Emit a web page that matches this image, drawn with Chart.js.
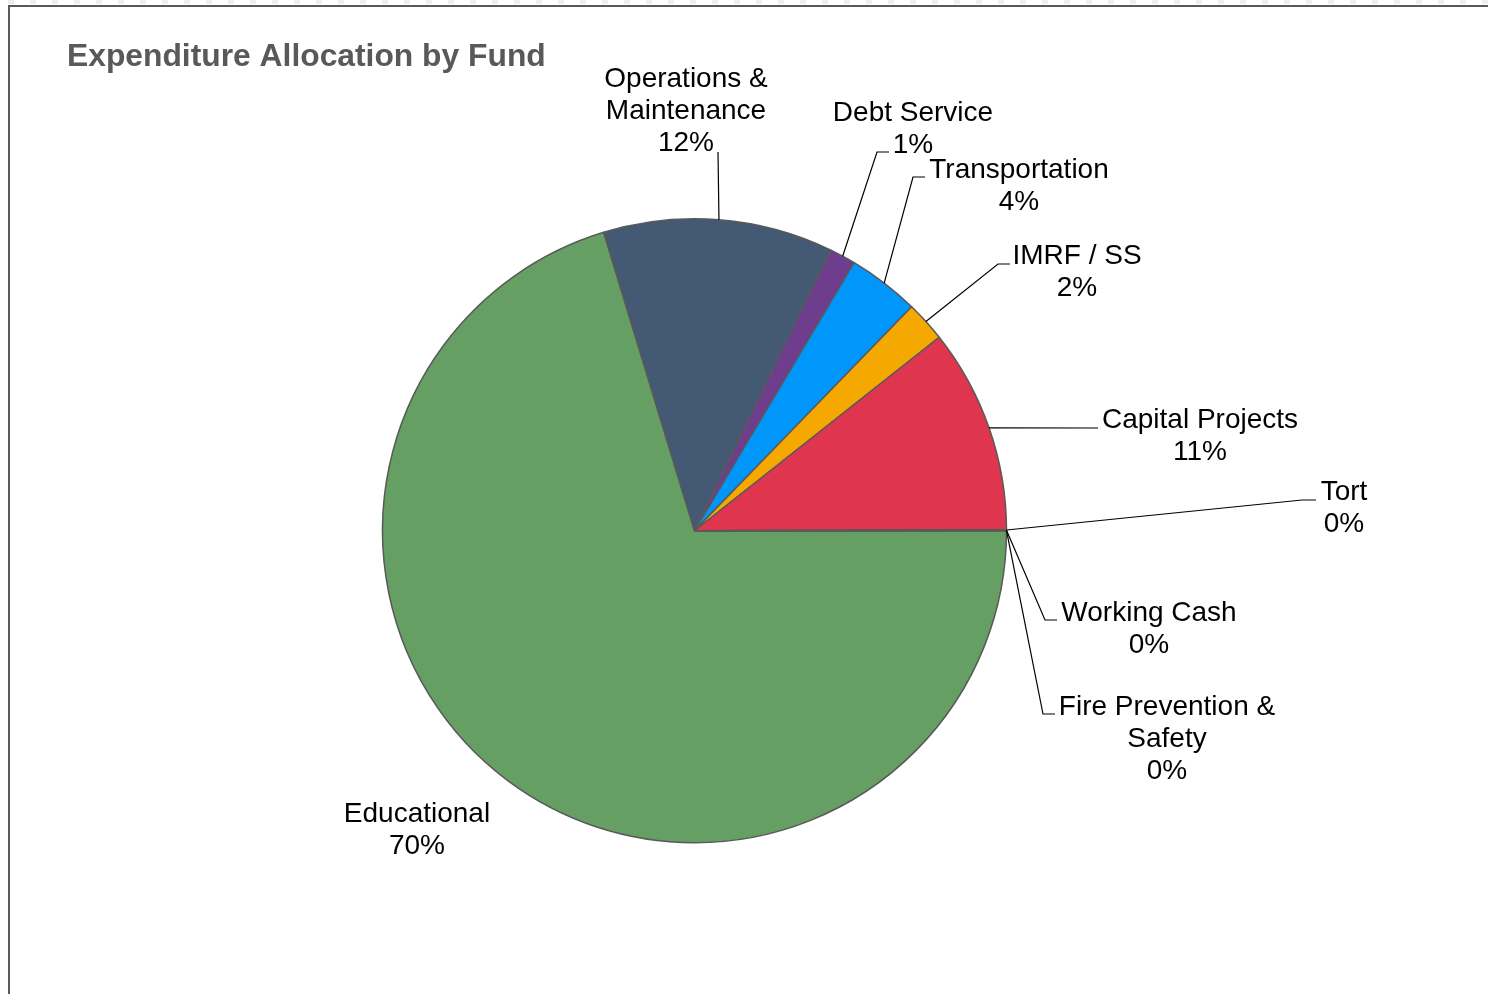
<!DOCTYPE html>
<html>
<head>
<meta charset="utf-8">
<title>Expenditure Allocation by Fund</title>
<script src="https://cdn.jsdelivr.net/npm/chart.js@4.4.1/dist/chart.umd.min.js"></script>
<style>
  html, body { margin: 0; padding: 0; background: #fff; }
  #wrap { position: relative; width: 1488px; height: 994px; overflow: hidden; }
  #dash {
    position: absolute; left: 0; top: 0; width: 1488px; height: 4px;
    background: repeating-linear-gradient(90deg, #fff 0 8px, #eeeeee 8px 14px, #fff 14px 22px);
  }
  #frame {
    position: absolute; left: 8px; top: 5px; right: 0; bottom: 0;
    border-left: 2px solid #595959; border-top: 2px solid #595959;
  }
  canvas { position: absolute; left: 0; top: 0; }
</style>
</head>
<body>
<div id="wrap">
  <div id="dash"></div>
  <div id="frame"></div>
  <canvas id="fundChart" width="1488" height="994"></canvas>
</div>
<script>
var categories = [
  'Educational',
  'Operations &\nMaintenance',
  'Debt Service',
  'Transportation',
  'IMRF / SS',
  'Capital Projects',
  'Tort',
  'Working Cash',
  'Fire Prevention &\nSafety'
];

// share of total expenditure, percent
var shares = [70.3, 11.9, 1.35, 3.7, 2.1, 10.6, 0.02, 0.01, 0.02];

var sliceColors = ['#659f63', '#445974', '#6e3d8e', '#0096fa', '#f5a800', '#e0354f', '#7f7f7f', '#a5a5a5', '#4472c4'];

// where each label sits and how its leader line bends
var labelLayout = [
  { x: 417, y: 814, line: null },
  { x: 686, y: 79, line: { elbow: [718, 152], tick: 718 } },
  { x: 913, y: 113, line: { elbow: [877, 152], tick: 889 } },
  { x: 1019, y: 170, line: { elbow: [913, 177], tick: 925 } },
  { x: 1077, y: 256, line: { elbow: [998, 264], tick: 1010 } },
  { x: 1200, y: 420, line: { elbow: [1098, 428], tick: 1098 } },
  { x: 1344, y: 492, line: { elbow: [1302, 500], tick: 1316 } },
  { x: 1149, y: 613, line: { elbow: [1045, 620], tick: 1057 } },
  { x: 1167, y: 707, line: { elbow: [1043, 714], tick: 1055 } }
];

var fontFamily = 'Arial, "Liberation Sans", Helvetica, sans-serif';

var fundLabels = {
  id: 'fundLabels',
  afterDatasetsDraw: function(chart) {
    var ctx = chart.ctx;
    var meta = chart.getDatasetMeta(0);
    var total = shares.reduce(function(a, b) { return a + b; }, 0);
    ctx.save();
    ctx.font = '28px ' + fontFamily;
    ctx.fillStyle = '#000';
    ctx.strokeStyle = '#000';
    ctx.lineWidth = 1.2;
    ctx.textAlign = 'center';
    ctx.textBaseline = 'middle';
    meta.data.forEach(function(arc, i) {
      var p = arc.getProps(['x', 'y', 'startAngle', 'endAngle', 'outerRadius'], true);
      var mid = (p.startAngle + p.endAngle) / 2;
      var ax = p.x + Math.cos(mid) * p.outerRadius;
      var ay = p.y + Math.sin(mid) * p.outerRadius;
      var lay = labelLayout[i];
      if (lay.line) {
        ctx.beginPath();
        ctx.moveTo(ax, ay);
        ctx.lineTo(lay.line.elbow[0], lay.line.elbow[1]);
        ctx.lineTo(lay.line.tick, lay.line.elbow[1]);
        ctx.stroke();
      }
      var lines = categories[i].split('\n');
      lines.push(Math.round(shares[i] / total * 100) + '%');
      lines.forEach(function(t, k) {
        ctx.fillText(t, lay.x, lay.y + k * 32);
      });
    });
    ctx.restore();
  }
};

new Chart(document.getElementById('fundChart').getContext('2d'), {
  type: 'pie',
  data: {
    labels: categories,
    datasets: [{
      data: shares,
      backgroundColor: sliceColors,
      borderColor: '#595959',
      borderWidth: 1.5,
      radius: 312
    }]
  },
  options: {
    responsive: false,
    devicePixelRatio: 1,
    animation: false,
    rotation: 90,
    events: [],
    layout: { padding: { left: 67, right: 166, top: 38, bottom: 8.6 } },
    plugins: {
      legend: { display: false },
      tooltip: { enabled: false },
      title: {
        display: true,
        text: 'Expenditure Allocation by Fund',
        align: 'start',
        color: '#595959',
        font: { family: fontFamily, size: 31.8, weight: 'bold' },
        padding: { top: 0, bottom: 0 }
      }
    }
  },
  plugins: [fundLabels]
});
</script>
</body>
</html>
